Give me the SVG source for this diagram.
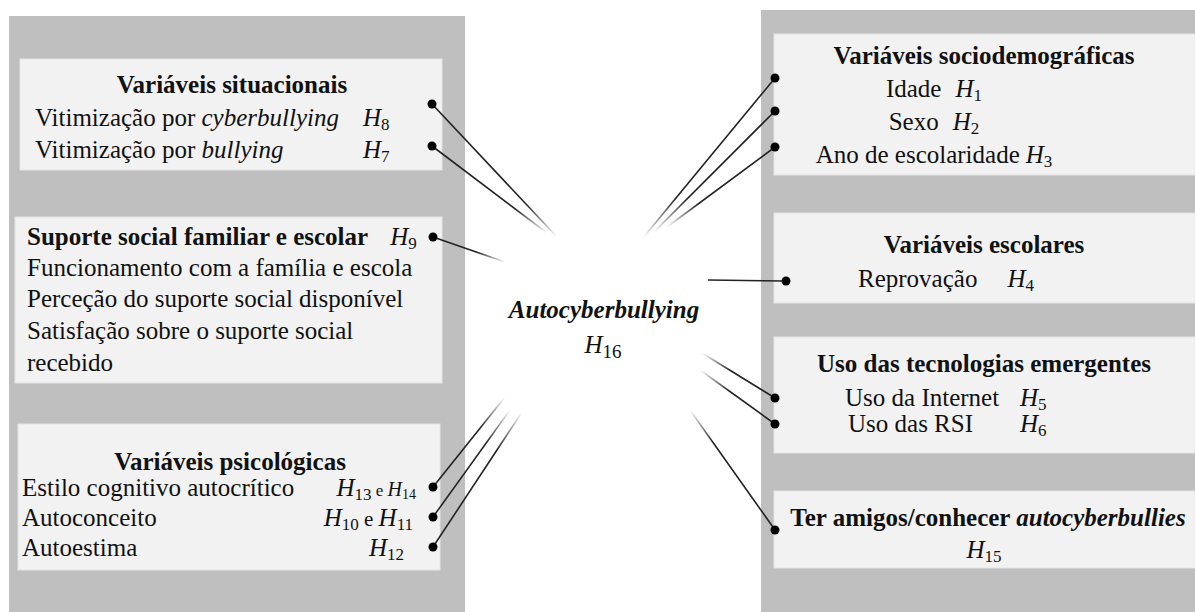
<svg xmlns="http://www.w3.org/2000/svg" width="1195" height="612" viewBox="0 0 1195 612">
<style>
text{font-family:"Liberation Serif",serif;font-size:25px;fill:#111}
.panel{fill:#bfbfbf}
.box{fill:#f2f2f2;stroke:#e4e4e4;stroke-width:1}
.b{font-weight:bold}
.i{font-style:italic}
.s{font-size:17px}
.c{text-anchor:middle}
.e{text-anchor:end}
.dot{fill:#000}
.ln{stroke-width:1.6;fill:none}
</style>
<defs>
<linearGradient id="g1" gradientUnits="userSpaceOnUse" x1="432" y1="104" x2="557" y2="237"><stop offset="0" stop-color="#222"/><stop offset="0.75" stop-color="#222"/><stop offset="1" stop-color="#222" stop-opacity="0"/></linearGradient>
<linearGradient id="g2" gradientUnits="userSpaceOnUse" x1="432" y1="146" x2="547" y2="233"><stop offset="0" stop-color="#222"/><stop offset="0.72" stop-color="#222"/><stop offset="1" stop-color="#222" stop-opacity="0"/></linearGradient>
<linearGradient id="g3" gradientUnits="userSpaceOnUse" x1="433" y1="237" x2="505" y2="262"><stop offset="0" stop-color="#222"/><stop offset="0.6" stop-color="#222"/><stop offset="1" stop-color="#222" stop-opacity="0"/></linearGradient>
<linearGradient id="g4" gradientUnits="userSpaceOnUse" x1="433" y1="487" x2="505" y2="397"><stop offset="0" stop-color="#222"/><stop offset="0.65" stop-color="#222"/><stop offset="1" stop-color="#222" stop-opacity="0"/></linearGradient>
<linearGradient id="g5" gradientUnits="userSpaceOnUse" x1="433" y1="517" x2="510" y2="410"><stop offset="0" stop-color="#222"/><stop offset="0.7" stop-color="#222"/><stop offset="1" stop-color="#222" stop-opacity="0"/></linearGradient>
<linearGradient id="g6" gradientUnits="userSpaceOnUse" x1="433" y1="547" x2="522" y2="412"><stop offset="0" stop-color="#222"/><stop offset="0.72" stop-color="#222"/><stop offset="1" stop-color="#222" stop-opacity="0"/></linearGradient>
<linearGradient id="g7" gradientUnits="userSpaceOnUse" x1="775" y1="78" x2="643" y2="238"><stop offset="0" stop-color="#222"/><stop offset="0.75" stop-color="#222"/><stop offset="1" stop-color="#222" stop-opacity="0"/></linearGradient>
<linearGradient id="g8" gradientUnits="userSpaceOnUse" x1="775" y1="111" x2="653" y2="233"><stop offset="0" stop-color="#222"/><stop offset="0.72" stop-color="#222"/><stop offset="1" stop-color="#222" stop-opacity="0"/></linearGradient>
<linearGradient id="g9" gradientUnits="userSpaceOnUse" x1="775" y1="147" x2="667" y2="227"><stop offset="0" stop-color="#222"/><stop offset="0.7" stop-color="#222"/><stop offset="1" stop-color="#222" stop-opacity="0"/></linearGradient>
<linearGradient id="g11" gradientUnits="userSpaceOnUse" x1="775" y1="398" x2="702" y2="353"><stop offset="0" stop-color="#222"/><stop offset="0.6" stop-color="#222"/><stop offset="1" stop-color="#222" stop-opacity="0"/></linearGradient>
<linearGradient id="g12" gradientUnits="userSpaceOnUse" x1="775" y1="424" x2="700" y2="370"><stop offset="0" stop-color="#222"/><stop offset="0.6" stop-color="#222"/><stop offset="1" stop-color="#222" stop-opacity="0"/></linearGradient>
<linearGradient id="g13" gradientUnits="userSpaceOnUse" x1="775" y1="530" x2="690" y2="410"><stop offset="0" stop-color="#222"/><stop offset="0.72" stop-color="#222"/><stop offset="1" stop-color="#222" stop-opacity="0"/></linearGradient>
</defs>

<rect class="panel" x="9" y="16" width="456" height="596"/>
<rect class="panel" x="761" y="10" width="434" height="602"/>

<g id="situacionais">
<rect class="box" x="20" y="59" width="422" height="111"/>
<text class="b c" x="232" y="93">Variáveis situacionais</text>
<text x="35" y="126">Vitimização por <tspan class="i">cyberbullying</tspan></text>
<text x="363" y="126"><tspan class="i">H</tspan><tspan class="s" dy="4">8</tspan></text>
<text x="35" y="158">Vitimização por <tspan class="i">bullying</tspan></text>
<text x="363" y="158"><tspan class="i">H</tspan><tspan class="s" dy="4">7</tspan></text>
</g>

<g id="suporte">
<rect class="box" x="15" y="217" width="427" height="166"/>
<text x="27" y="245"><tspan class="b">Suporte social familiar e escolar</tspan><tspan class="i" dx="22">H</tspan><tspan class="s" dy="4">9</tspan></text>
<text x="27" y="276">Funcionamento com a família e escola</text>
<text x="27" y="307">Perceção do suporte social disponível</text>
<text x="27" y="339">Satisfação sobre o suporte social</text>
<text x="27" y="371">recebido</text>
</g>

<g id="psicologicas">
<rect class="box" x="18" y="424" width="422" height="146"/>
<text class="b c" x="230" y="470">Variáveis psicológicas</text>
<text x="22" y="496">Estilo cognitivo autocrítico</text>
<text class="e" x="416" y="496"><tspan class="i">H</tspan><tspan class="s" dy="4">13</tspan><tspan font-size="17" dy="-4"> e </tspan><tspan class="i" font-size="20">H</tspan><tspan font-size="14" dy="3">14</tspan></text>
<text x="22" y="526">Autoconceito</text>
<text class="e" x="413" y="526"><tspan class="i">H</tspan><tspan class="s" dy="4">10</tspan><tspan font-size="21" dy="-4"> e </tspan><tspan class="i">H</tspan><tspan class="s" dy="4">11</tspan></text>
<text x="22" y="556">Autoestima</text>
<text class="e" x="404" y="556"><tspan class="i">H</tspan><tspan class="s" dy="4">12</tspan></text>
</g>

<g id="centro">
<text class="b i c" x="604" y="318" font-size="29">Autocyberbullying</text>
<text class="c" x="603" y="353" font-size="28"><tspan class="i">H</tspan><tspan font-size="19" dy="5">16</tspan></text>
</g>

<g id="sociodemograficas">
<rect class="box" x="774" y="34" width="421" height="141"/>
<text class="b c" x="984" y="64">Variáveis sociodemográficas</text>
<text class="c" x="934" y="97">Idade<tspan class="i" dx="14">H</tspan><tspan class="s" dy="4">1</tspan></text>
<text class="c" x="934" y="130">Sexo<tspan class="i" dx="14">H</tspan><tspan class="s" dy="4">2</tspan></text>
<text class="c" x="934" y="163">Ano de escolaridade<tspan class="i" dx="6">H</tspan><tspan class="s" dy="4">3</tspan></text>
</g>

<g id="escolares">
<rect class="box" x="774" y="213" width="421" height="90"/>
<text class="b c" x="984" y="253">Variáveis escolares</text>
<text x="858" y="287">Reprovação<tspan class="i" dx="30">H</tspan><tspan class="s" dy="4">4</tspan></text>
</g>

<g id="tecnologias">
<rect class="box" x="774" y="337" width="421" height="116"/>
<text class="b c" x="984" y="372">Uso das tecnologias emergentes</text>
<text x="845" y="406">Uso da Internet</text>
<text x="1020" y="406"><tspan class="i">H</tspan><tspan class="s" dy="4">5</tspan></text>
<text x="848" y="432">Uso das RSI</text>
<text x="1020" y="432"><tspan class="i">H</tspan><tspan class="s" dy="4">6</tspan></text>
</g>

<g id="amigos">
<rect class="box" x="774" y="491" width="421" height="77"/>
<text class="b c" x="988" y="526">Ter amigos/conhecer <tspan class="i">autocyberbullies</tspan></text>
<text class="c" x="984" y="558"><tspan class="i">H</tspan><tspan class="s" dy="4">15</tspan></text>
</g>

<g id="connectors">
<line class="ln" x1="432" y1="104" x2="557" y2="237" stroke="url(#g1)"/>
<line class="ln" x1="432" y1="146" x2="547" y2="233" stroke="url(#g2)"/>
<line class="ln" x1="433" y1="237" x2="505" y2="262" stroke="url(#g3)"/>
<line class="ln" x1="433" y1="487" x2="505" y2="397" stroke="url(#g4)"/>
<line class="ln" x1="433" y1="517" x2="510" y2="410" stroke="url(#g5)"/>
<line class="ln" x1="433" y1="547" x2="522" y2="412" stroke="url(#g6)"/>
<line class="ln" x1="775" y1="78" x2="643" y2="238" stroke="url(#g7)"/>
<line class="ln" x1="775" y1="111" x2="653" y2="233" stroke="url(#g8)"/>
<line class="ln" x1="775" y1="147" x2="667" y2="227" stroke="url(#g9)"/>
<line class="ln" x1="786" y1="281" x2="708" y2="280" stroke="#222"/>
<line class="ln" x1="775" y1="398" x2="702" y2="353" stroke="url(#g11)"/>
<line class="ln" x1="775" y1="424" x2="700" y2="370" stroke="url(#g12)"/>
<line class="ln" x1="775" y1="530" x2="690" y2="410" stroke="url(#g13)"/>
<circle class="dot" cx="432" cy="104" r="4.5"/>
<circle class="dot" cx="432" cy="146" r="4.5"/>
<circle class="dot" cx="433" cy="237" r="4.5"/>
<circle class="dot" cx="433" cy="487" r="4.5"/>
<circle class="dot" cx="433" cy="517" r="4.5"/>
<circle class="dot" cx="433" cy="547" r="4.5"/>
<circle class="dot" cx="775" cy="78" r="4.5"/>
<circle class="dot" cx="775" cy="111" r="4.5"/>
<circle class="dot" cx="775" cy="147" r="4.5"/>
<circle class="dot" cx="786" cy="281" r="4.5"/>
<circle class="dot" cx="775" cy="398" r="4.5"/>
<circle class="dot" cx="775" cy="424" r="4.5"/>
<circle class="dot" cx="775" cy="530" r="4.5"/>
</g>
</svg>
